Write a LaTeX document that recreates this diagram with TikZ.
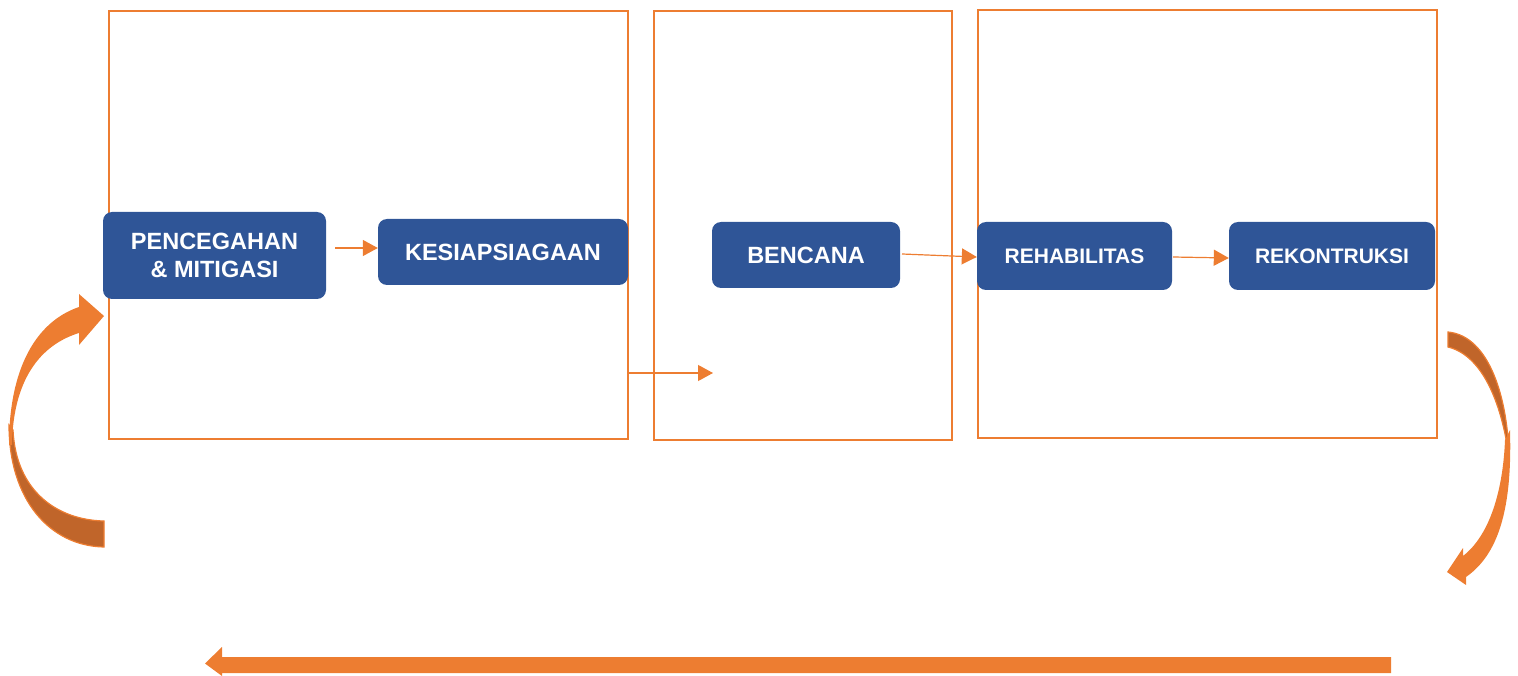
\documentclass[tikz,border=0pt]{standalone}
\usepackage{fontspec}
\setmainfont{Liberation Sans}
\usetikzlibrary{arrows.meta}
\definecolor{obox}{HTML}{ED7D31}
\definecolor{odark}{HTML}{C0652A}
\definecolor{bnode}{HTML}{2F5597}
\tikzset{
  frame/.style={draw=obox, line width=1.6pt},
  bluebox/.style={fill=bnode, draw=none, rounded corners=9pt, text=white, font=\bfseries\fontsize{23.5}{28}\selectfont, align=center, inner sep=0pt},
  smallblue/.style={bluebox, font=\bfseries\fontsize{21}{25}\selectfont},
  thin arrow/.style={draw=obox, line width=1.2pt, -{Triangle[length=15pt,width=16pt]}},
}
\begin{document}
\begin{tikzpicture}[x=1pt,y=-1pt]
\useasboundingbox (0,0) rectangle (1518,676);
% frames
\draw[frame] (109,11) rectangle (628,439);
\draw[frame] (654,11) rectangle (952,440);
\draw[frame] (978,10) rectangle (1437,438);
% blue nodes
\node[bluebox, minimum width=223pt, minimum height=87pt] (pm) at (214.5,255.5) {PENCEGAHAN\\\& MITIGASI};
\node[bluebox, minimum width=250pt, minimum height=66pt] (ks) at (503,252) {KESIAPSIAGAAN};
\node[bluebox, minimum width=188pt, minimum height=66pt] (bc) at (806,255) {BENCANA};
\node[smallblue, minimum width=195pt, minimum height=68pt] (rh) at (1074.5,256) {REHABILITAS};
\node[smallblue, minimum width=206pt, minimum height=68pt] (rk) at (1332,256) {REKONTRUKSI};
% small connectors
\coordinate (a1) at (335,248);
\draw[thin arrow] (a1) -- (ks.west |- a1);
\coordinate (a2s) at (628,373);
\coordinate (a2e) at (713,373);
\draw[thin arrow] (a2s) -- (a2e);
\coordinate (a3s) at (902,254);
\draw[thin arrow] (a3s) -- (rh.west |- 0,257);
\coordinate (a4s) at (1173,257);
\draw[thin arrow] (a4s) -- (rk.west |- 0,258);
% bottom big arrow
\fill[obox] (1391,657) -- (222,657) -- (222,647) -- (205,663.5) -- (222,676) -- (222,673) -- (1391,673) -- cycle;
% left curved arrow: lower dark part
\filldraw[fill=odark, draw=obox, line width=1.2pt]
  (9,425) .. controls (9,500) and (50,546) .. (104,547) -- (104,521)
  .. controls (58,520) and (16,492) .. (13,430) -- cycle;
% left curved arrow: upper part with head
\fill[obox] (9,445) .. controls (9,370) and (35,322) .. (79,307) -- (79,294) -- (104,316) -- (79,345) -- (79,333)
  .. controls (40,345) and (13,380) .. (12,445) -- cycle;
% right curved arrow: upper dark part
\filldraw[fill=odark, draw=obox, line width=1.2pt]
  (1448,332) .. controls (1490,336) and (1508,400) .. (1509,458)
  .. controls (1503,410) and (1485,356) .. (1448,347) -- cycle;
% right curved arrow: lower part with head
\fill[obox] (1510,430) .. controls (1512,500) and (1502,552) .. (1466,577) -- (1466,585) -- (1447,572) -- (1463,548) -- (1463,556)
  .. controls (1490,535) and (1503,490) .. (1505,440) -- cycle;
\end{tikzpicture}
\end{document}
